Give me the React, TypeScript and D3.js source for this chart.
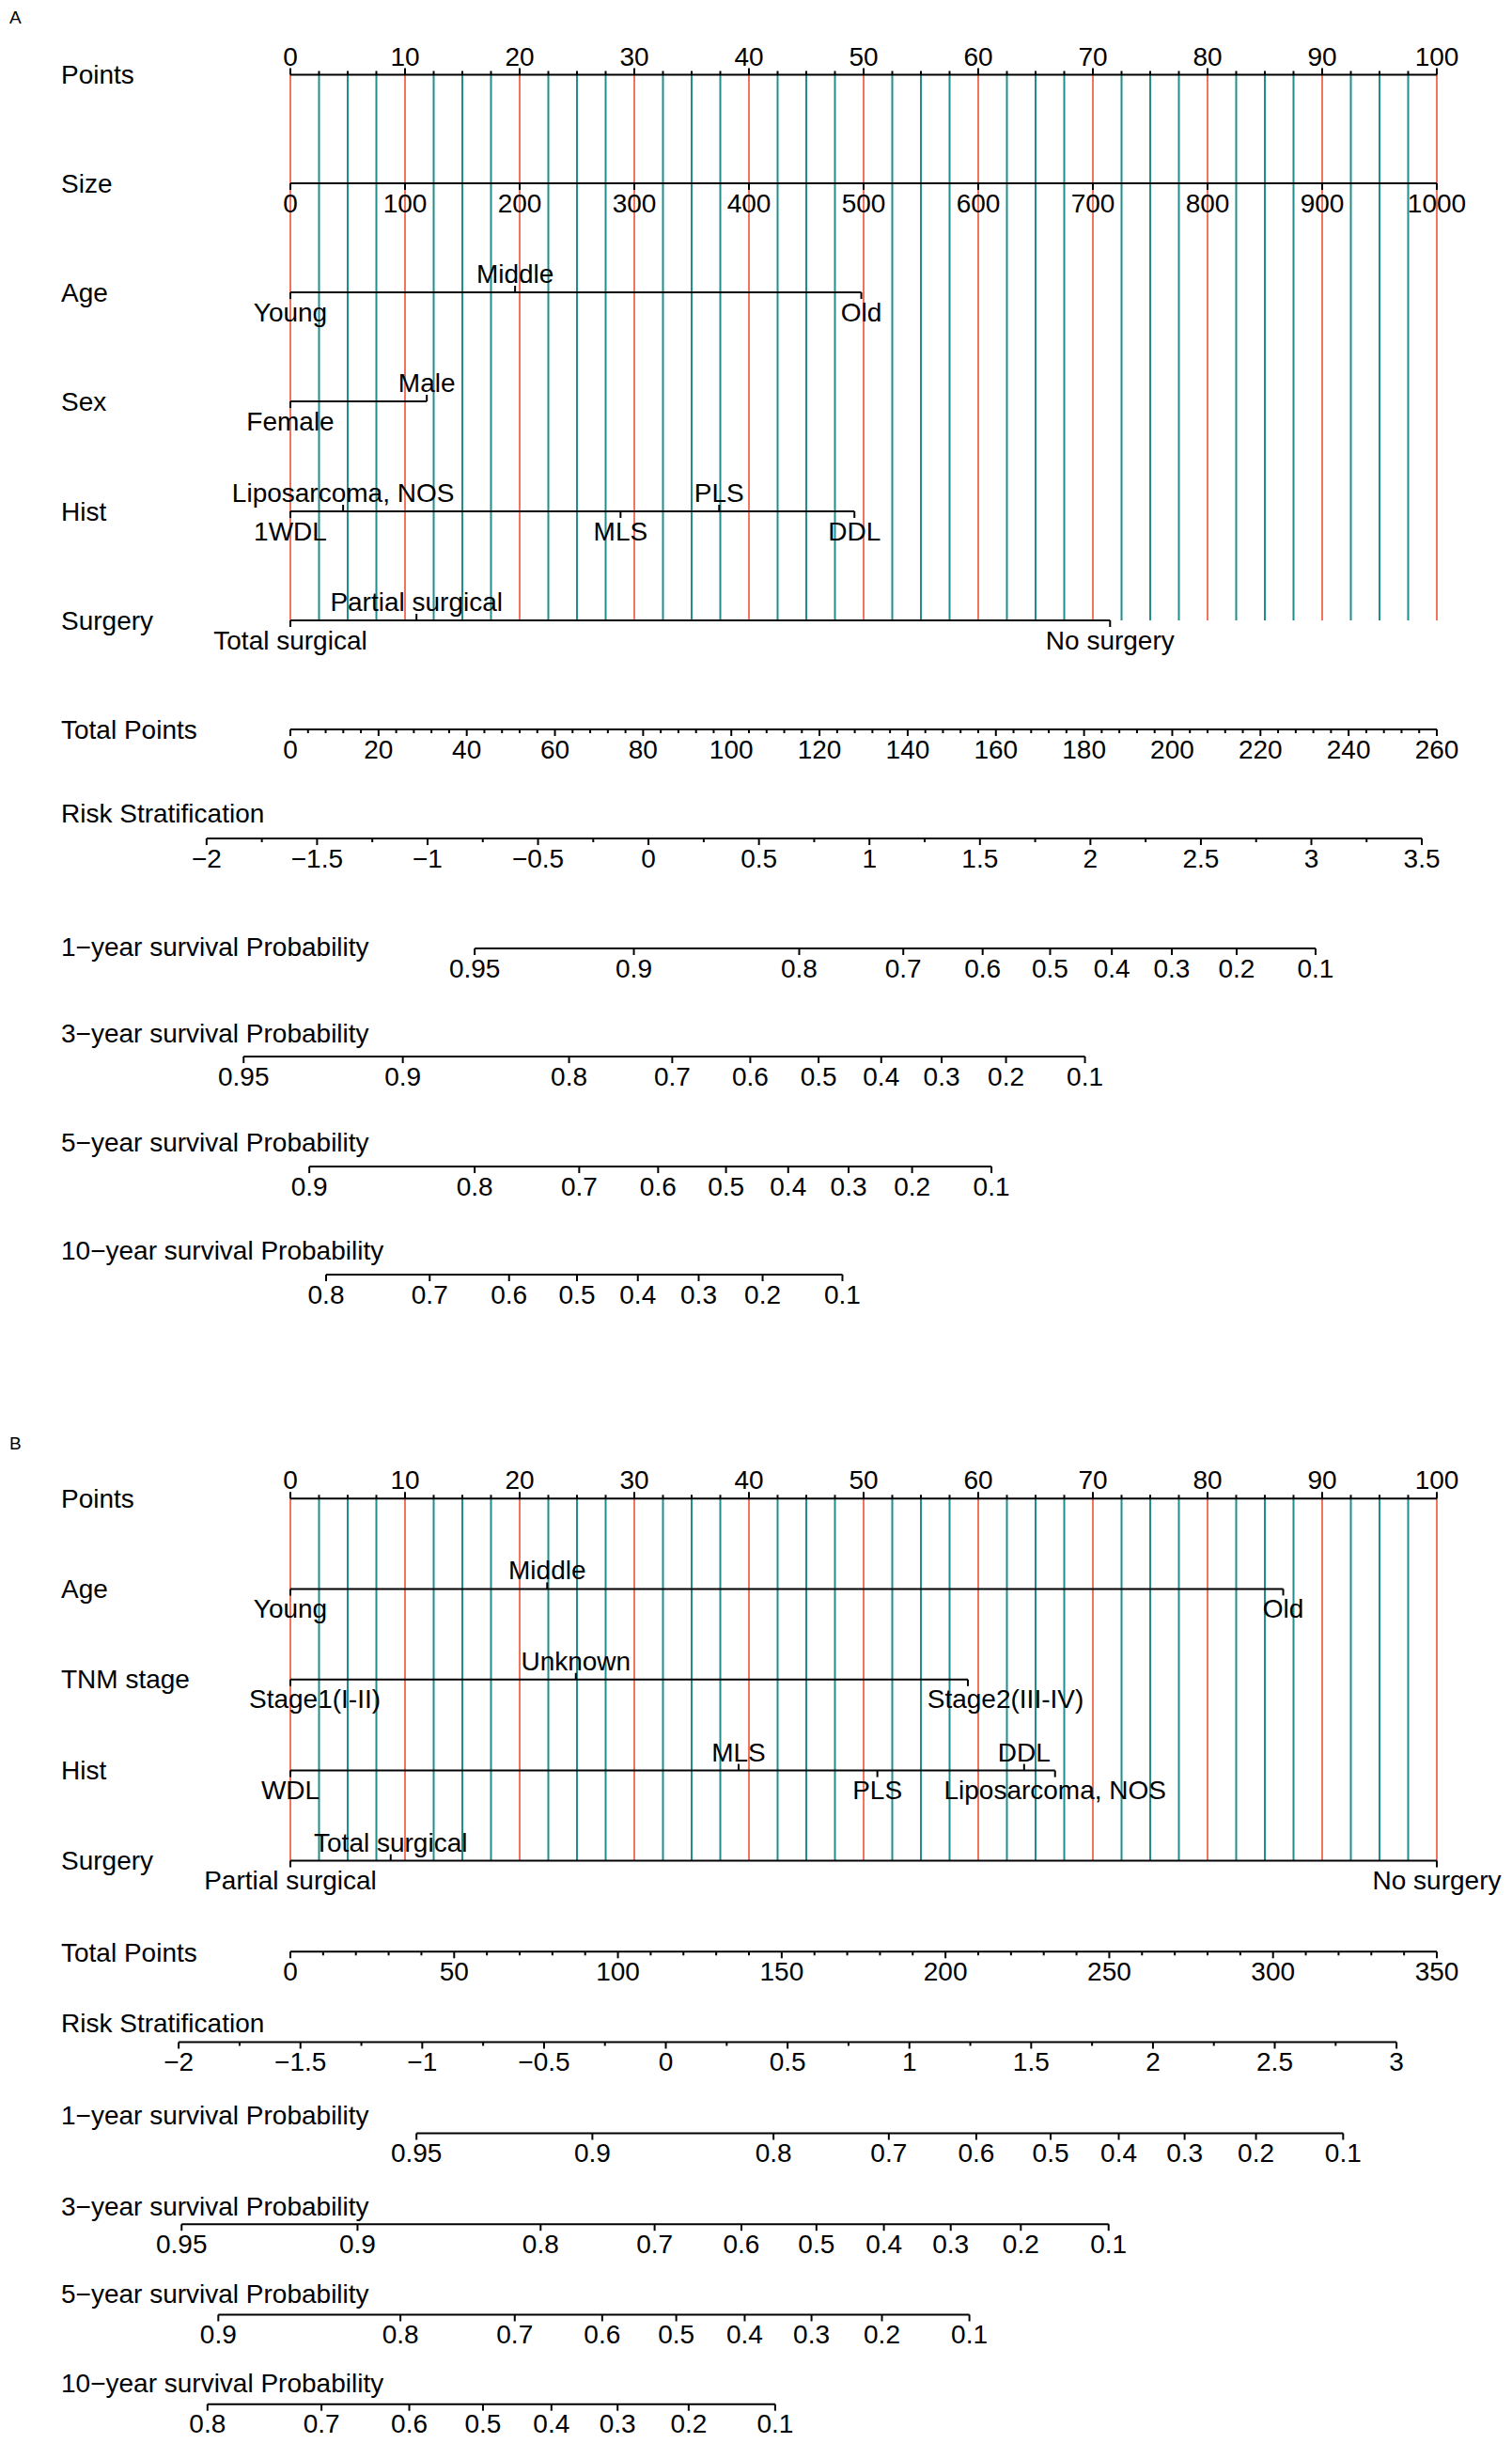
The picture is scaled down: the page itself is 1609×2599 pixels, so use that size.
import React, { useEffect, useRef } from 'react';
import * as d3 from 'd3';

const W = 1609;
const H = 2599;
const FONT = "'Liberation Sans', Arial, Helvetica, sans-serif";
const FS = 28;
const RED = '#f2745f';
const TEAL = '#218d8d';

// ---------- Panel A ----------
const aPointTicks = [0, 10, 20, 30, 40, 50, 60, 70, 80, 90, 100];
const aSizeTicks = [0, 100, 200, 300, 400, 500, 600, 700, 800, 900, 1000];

const aAgeLevels = ['Young', 'Middle', 'Old'];
const aAgePoints = [0, 19.6, 49.8];
const aAgeAbove = [false, true, false];

const aSexLevels = ['Female', 'Male'];
const aSexPoints = [0, 11.9];
const aSexAbove = [false, true];

const aHistLevels = ['1WDL', 'Liposarcoma, NOS', 'MLS', 'PLS', 'DDL'];
const aHistPoints = [0, 4.6, 28.8, 37.4, 49.2];
const aHistAbove = [false, true, false, true, false];

const aSurgLevels = ['Total surgical', 'Partial surgical', 'No surgery'];
const aSurgPoints = [0, 11, 71.5];
const aSurgAbove = [false, true, false];

const aTotalTicks = [0, 20, 40, 60, 80, 100, 120, 140, 160, 180, 200, 220, 240, 260];
const aTotalMinorStep = 4;

const aRiskTicks = [-2, -1.5, -1, -0.5, 0, 0.5, 1, 1.5, 2, 2.5, 3, 3.5];
const aRiskTotalAt = [-19.0, 256.6]; // total points at lp -2 and 3.5

const aProb1 = [0.95, 0.9, 0.8, 0.7, 0.6, 0.5, 0.4, 0.3, 0.2, 0.1];
const aProb1Total = [41.8, 77.9, 115.4, 139.0, 157.0, 172.3, 186.3, 199.9, 214.6, 232.5];
const aProb3 = [0.95, 0.9, 0.8, 0.7, 0.6, 0.5, 0.4, 0.3, 0.2, 0.1];
const aProb3Total = [-10.6, 25.5, 63.2, 86.6, 104.3, 119.8, 134.0, 147.7, 162.3, 180.2];
const aProb5 = [0.9, 0.8, 0.7, 0.6, 0.5, 0.4, 0.3, 0.2, 0.1];
const aProb5Total = [4.3, 41.8, 65.5, 83.4, 98.8, 112.9, 126.6, 141.0, 159.0];
const aProb10 = [0.8, 0.7, 0.6, 0.5, 0.4, 0.3, 0.2, 0.1];
const aProb10Total = [8.1, 31.6, 49.6, 65.0, 78.8, 92.6, 107.1, 125.2];

// ---------- Panel B ----------
const bPointTicks = [0, 10, 20, 30, 40, 50, 60, 70, 80, 90, 100];

const bAgeLevels = ['Young', 'Middle', 'Old'];
const bAgePoints = [0, 22.4, 86.6];
const bAgeAbove = [false, true, false];

const bTnmLevels = ['Stage1(I-II)', 'Unknown', 'Stage2(III-IV)'];
const bTnmPoints = [0, 24.9, 59.1];
const bTnmAbove = [false, true, false];

const bHistLevels = ['WDL', 'MLS', 'PLS', 'DDL', 'Liposarcoma, NOS'];
const bHistPoints = [0, 39.1, 51.2, 64.0, 66.7];
const bHistAbove = [false, true, false, true, false];

const bSurgLevels = ['Partial surgical', 'Total surgical', 'No surgery'];
const bSurgPoints = [0, 8.75, 100];
const bSurgAbove = [false, true, false];

const bTotalTicks = [0, 50, 100, 150, 200, 250, 300, 350];
const bTotalMinorStep = 10;

const bRiskTicks = [-2, -1.5, -1, -0.5, 0, 0.5, 1, 1.5, 2, 2.5, 3];
const bRiskTotalAt = [-34.1, 337.7]; // total points at lp -2 and 3

const bProb1 = [0.95, 0.9, 0.8, 0.7, 0.6, 0.5, 0.4, 0.3, 0.2, 0.1];
const bProb1Total = [38.5, 92.2, 147.5, 182.7, 209.4, 232.1, 252.9, 273.0, 294.8, 321.4];
const bProb3 = [0.95, 0.9, 0.8, 0.7, 0.6, 0.5, 0.4, 0.3, 0.2, 0.1];
const bProb3Total = [-33.2, 20.5, 76.4, 111.2, 137.7, 160.6, 181.2, 201.6, 223.0, 249.8];
const bProb5 = [0.9, 0.8, 0.7, 0.6, 0.5, 0.4, 0.3, 0.2, 0.1];
const bProb5Total = [-22.0, 33.6, 68.5, 95.2, 117.8, 138.7, 159.1, 180.6, 207.3];
const bProb10 = [0.8, 0.7, 0.6, 0.5, 0.4, 0.3, 0.2, 0.1];
const bProb10Total = [-25.3, 9.5, 36.3, 58.8, 79.7, 99.9, 121.6, 148.0];

// the stage labels sit off-centre in the original figure
const labelNudge: Record<string, number> = { 'Stage1(I-II)': 26, 'Stage2(III-IV)': 40 };

type G = d3.Selection<SVGGElement, unknown, null, undefined>;
type Scale = d3.ScaleLinear<number, number>;

const fmt = (v: number) => String(v).replace('-', '\u2212');

function hline(g: G, x1: number, x2: number, y: number) {
  g.append('line').attr('x1', x1).attr('x2', x2).attr('y1', y).attr('y2', y)
    .attr('stroke', '#000').attr('stroke-width', 2);
}

function tick(g: G, x: number, y: number, len: number) {
  g.append('line').attr('x1', x).attr('x2', x).attr('y1', y).attr('y2', y + len)
    .attr('stroke', '#000').attr('stroke-width', 2);
}

function label(g: G, s: string, x: number, y: number, anchor = 'middle', size = FS) {
  g.append('text').attr('x', x).attr('y', y)
    .attr('text-anchor', anchor).attr('dominant-baseline', 'central')
    .attr('font-family', FONT).attr('font-size', size).attr('fill', '#000')
    .text(s);
}

function rowTitle(g: G, s: string, y: number) {
  label(g, s, 65, y, 'start');
}

// Points axis with ticks and labels on top, plus the coloured reference lines
function pointsAxis(g: G, x: Scale, ticks: number[], y: number, yEnd: number) {
  const grid = d3.range(0, 100.001, 2.5);
  grid.forEach(p => {
    g.append('line').attr('x1', x(p)).attr('x2', x(p)).attr('y1', y).attr('y2', yEnd)
      .attr('stroke', p % 10 === 0 ? RED : TEAL).attr('stroke-width', 2);
  });
  hline(g, x(0), x(100), y);
  grid.forEach(p => tick(g, x(p), y, ticks.includes(p) ? -7 : -4));
  ticks.forEach(t => label(g, fmt(t), x(t), y - 19.5));
}

// Continuous axis with labels below
function lowerAxis(g: G, pos: (v: number) => number, ticks: number[], minor: number[], y: number) {
  hline(g, pos(ticks[0]), pos(ticks[ticks.length - 1]), y);
  minor.forEach(m => tick(g, pos(m), y, 4));
  ticks.forEach(t => {
    tick(g, pos(t), y, 7);
    label(g, fmt(t), pos(t), y + 21);
  });
}

function categoryAxis(g: G, x: Scale, levels: string[], pts: number[], above: boolean[], y: number) {
  hline(g, x(d3.min(pts)!), x(d3.max(pts)!), y);
  levels.forEach((lv, i) => {
    tick(g, x(pts[i]), y, above[i] ? -7 : 7);
    label(g, lv, x(pts[i]) + (labelNudge[lv] || 0), above[i] ? y - 19.5 : y + 21);
  });
}

function probAxis(g: G, tx: Scale, probs: number[], totals: number[], y: number) {
  hline(g, tx(totals[0]), tx(totals[totals.length - 1]), y);
  probs.forEach((p, i) => {
    tick(g, tx(totals[i]), y, 7);
    label(g, String(p), tx(totals[i]), y + 21);
  });
}

const X0 = 309;
const X1 = 1529;

function drawA(g: G) {
  const x = d3.scaleLinear().domain([0, 100]).range([X0, X1]);
  const size = d3.scaleLinear().domain([0, 1000]).range([X0, X1]);
  const tx = d3.scaleLinear().domain([0, 260]).range([X0, X1]);
  const lp = d3.scaleLinear().domain([-2, 3.5]).range(aRiskTotalAt);

  label(g, 'A', 10, 18, 'start', 19);

  const rows = { points: 79.5, size: 195, age: 311, sex: 427, hist: 544, surg: 660 };
  pointsAxis(g, x, aPointTicks, rows.points, rows.surg);
  rowTitle(g, 'Points', rows.points);

  rowTitle(g, 'Size', rows.size);
  lowerAxis(g, v => size(v), aSizeTicks, [], rows.size);

  rowTitle(g, 'Age', rows.age);
  categoryAxis(g, x, aAgeLevels, aAgePoints, aAgeAbove, rows.age);
  rowTitle(g, 'Sex', rows.sex);
  categoryAxis(g, x, aSexLevels, aSexPoints, aSexAbove, rows.sex);
  rowTitle(g, 'Hist', rows.hist);
  categoryAxis(g, x, aHistLevels, aHistPoints, aHistAbove, rows.hist);
  rowTitle(g, 'Surgery', rows.surg);
  categoryAxis(g, x, aSurgLevels, aSurgPoints, aSurgAbove, rows.surg);

  rowTitle(g, 'Total Points', 776);
  lowerAxis(g, v => tx(v), aTotalTicks, d3.range(0, 260.001, aTotalMinorStep).filter(v => !aTotalTicks.includes(v)), 776);

  rowTitle(g, 'Risk Stratification', 865);
  lowerAxis(g, v => tx(lp(v)), aRiskTicks, d3.range(-1.75, 3.5, 0.5), 892);

  rowTitle(g, '1\u2212year survival Probability', 1007);
  probAxis(g, tx, aProb1, aProb1Total, 1009);
  rowTitle(g, '3\u2212year survival Probability', 1099);
  probAxis(g, tx, aProb3, aProb3Total, 1124);
  rowTitle(g, '5\u2212year survival Probability', 1215);
  probAxis(g, tx, aProb5, aProb5Total, 1241);
  rowTitle(g, '10\u2212year survival Probability', 1330);
  probAxis(g, tx, aProb10, aProb10Total, 1356);
}

function drawB(g: G) {
  const x = d3.scaleLinear().domain([0, 100]).range([X0, X1]);
  const tx = d3.scaleLinear().domain([0, 350]).range([X0, X1]);
  const lp = d3.scaleLinear().domain([-2, 3]).range(bRiskTotalAt);

  label(g, 'B', 10, 1535, 'start', 19);

  const rows = { points: 1594.3, age: 1690.4, tnm: 1786.8, hist: 1883.6, surg: 1979.6 };
  pointsAxis(g, x, bPointTicks, rows.points, rows.surg);
  rowTitle(g, 'Points', rows.points);

  rowTitle(g, 'Age', rows.age);
  categoryAxis(g, x, bAgeLevels, bAgePoints, bAgeAbove, rows.age);
  rowTitle(g, 'TNM stage', rows.tnm);
  categoryAxis(g, x, bTnmLevels, bTnmPoints, bTnmAbove, rows.tnm);
  rowTitle(g, 'Hist', rows.hist);
  categoryAxis(g, x, bHistLevels, bHistPoints, bHistAbove, rows.hist);
  rowTitle(g, 'Surgery', rows.surg);
  categoryAxis(g, x, bSurgLevels, bSurgPoints, bSurgAbove, rows.surg);

  rowTitle(g, 'Total Points', 2077);
  lowerAxis(g, v => tx(v), bTotalTicks, d3.range(0, 350.001, bTotalMinorStep).filter(v => !bTotalTicks.includes(v)), 2076.3);

  rowTitle(g, 'Risk Stratification', 2152.6);
  lowerAxis(g, v => tx(lp(v)), bRiskTicks, d3.range(-1.75, 3, 0.5), 2172.5);

  rowTitle(g, '1\u2212year survival Probability', 2250.6);
  probAxis(g, tx, bProb1, bProb1Total, 2269.5);
  rowTitle(g, '3\u2212year survival Probability', 2347.6);
  probAxis(g, tx, bProb3, bProb3Total, 2366.2);
  rowTitle(g, '5\u2212year survival Probability', 2440.4);
  probAxis(g, tx, bProb5, bProb5Total, 2462.5);
  rowTitle(g, '10\u2212year survival Probability', 2535);
  probAxis(g, tx, bProb10, bProb10Total, 2557.7);
}

export default function App() {
  const svgRef = useRef<SVGSVGElement>(null);

  useEffect(() => {
    if (!svgRef.current) return;
    const svg = d3.select(svgRef.current);
    svg.selectAll('*').remove();
    svg.append('rect').attr('width', W).attr('height', H).attr('fill', '#fff');
    drawA(svg.append('g') as unknown as G);
    drawB(svg.append('g') as unknown as G);
  }, []);

  return (
    <svg
      ref={svgRef}
      width={W}
      height={H}
      viewBox={`0 0 ${W} ${H}`}
      style={{ position: 'absolute', left: 0, top: 0, display: 'block' }}
    />
  );
}
